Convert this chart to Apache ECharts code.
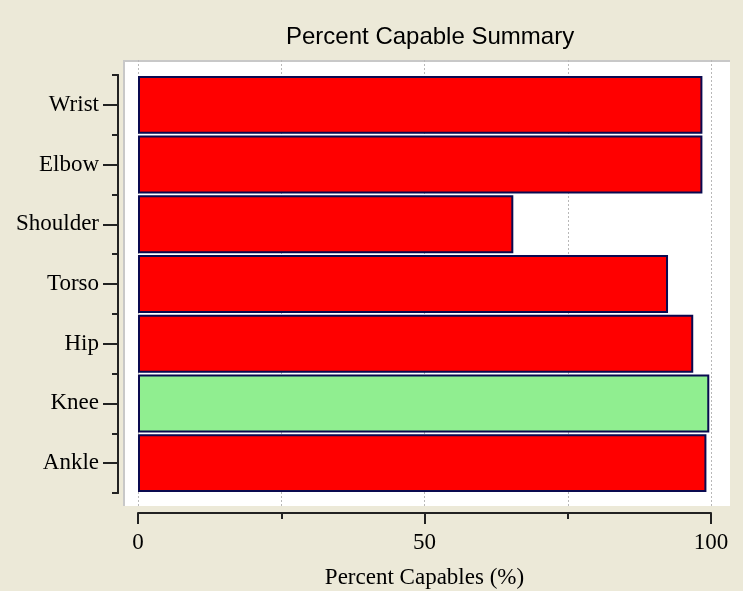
<!DOCTYPE html>
<html>
<head>
<meta charset="utf-8">
<script src="https://cdn.jsdelivr.net/npm/echarts@6/dist/echarts.min.js"></script>
<style>
  html, body { margin: 0; padding: 0; background: #ECE9D8; }
  #chart { width: 743px; height: 591px; }
</style>
</head>
<body>
<div id="chart"></div>
<script>
  // top to bottom, as in the picture
  let joints = ['Wrist', 'Elbow', 'Shoulder', 'Torso', 'Hip', 'Knee', 'Ankle']
  let percentCapable = [98.5, 98.5, 65.5, 92.5, 96.9, 99.7, 99.2]
  let highlighted = 'Knee'
  let xTicks = [0, 50, 100]

  let myChart = echarts.init(document.getElementById('chart'))
  let labelFont = {
    fontFamily: '"Liberation Serif", "DejaVu Serif", serif',
    fontSize: 23,
    color: '#000'
  }
  let axisDark = { color: '#222', width: 2 }

  let option = {
    backgroundColor: '#ECE9D8',
    animation: false,
    title: {
      text: 'Percent Capable Summary',
      left: 281,
      top: 20,
      textStyle: {
        fontFamily: '"Liberation Sans", Arial, sans-serif',
        fontWeight: 'normal',
        fontSize: 24,
        color: '#000'
      }
    },
    graphic: [
      // white plot panel with the sunken grey top / left edge
      { type: 'rect', z: -10, shape: { x: 123, y: 60, width: 607, height: 446 }, style: { fill: '#fff' } },
      { type: 'polyline', z: -9, shape: { points: [[124, 506], [124, 61], [730, 61]] }, style: { stroke: '#c8c8c8', lineWidth: 2, fill: null } }
    ],
    grid: [
      { left: 138, right: 32, top: 75, bottom: 98, outerBoundsMode: 'none', containLabel: false },
      { left: 138, right: 32, top: 60, bottom: 85, outerBoundsMode: 'none', containLabel: false }
    ],
    xAxis: [{
      gridIndex: 0,
      type: 'value',
      min: 0,
      max: 100,
      interval: 50,
      offset: 20,
      name: 'Percent Capables (%)',
      nameLocation: 'middle',
      nameGap: 53,
      nameTextStyle: labelFont,
      axisLine: { show: true, onZero: false, lineStyle: axisDark },
      axisTick: { show: true, length: 11, lineStyle: axisDark },
      minorTick: { show: true, splitNumber: 2, length: 6, lineStyle: axisDark },
      splitLine: { show: false },
      axisLabel: Object.assign({ margin: 18, formatter: function (v) {
        return xTicks.indexOf(v) >= 0 ? String(v) : ''
      } }, labelFont)
    }, {
      gridIndex: 1,
      type: 'value',
      min: 0,
      max: 100,
      interval: 25,
      axisLine: { show: false },
      axisTick: { show: false },
      axisLabel: { show: false },
      splitLine: { show: true, lineStyle: { color: '#b8b8b8', width: 1, type: [2, 2] } }
    }],
    yAxis: [{
      gridIndex: 0,
      type: 'category',
      inverse: true,
      data: joints,
      position: 'left',
      offset: 20,
      axisLine: { show: true, onZero: false, lineStyle: axisDark },
      axisTick: { show: true, alignWithLabel: true, length: 15, lineStyle: axisDark },
      axisLabel: Object.assign({ margin: 19 }, labelFont),
      splitLine: { show: false }
    }, {
      gridIndex: 0,
      type: 'category',
      inverse: true,
      data: joints,
      position: 'left',
      offset: 20,
      axisLine: { show: true, onZero: false, lineStyle: axisDark },
      axisTick: { show: true, length: 6, lineStyle: axisDark },
      axisLabel: { show: false },
      splitLine: { show: false }
    }, {
      gridIndex: 1,
      type: 'value',
      show: false
    }],
    series: [{
      name: 'Percent Capable',
      type: 'bar',
      xAxisIndex: 0,
      yAxisIndex: 0,
      barCategoryGap: '3%',
      data: percentCapable,
      itemStyle: {
        color: function (p) {
          return p.name === highlighted ? '#90EE90' : '#FF0000'
        },
        borderColor: '#0a0a50',
        borderWidth: 2
      }
    }]
  }
  myChart.setOption(option)
</script>
</body>
</html>
